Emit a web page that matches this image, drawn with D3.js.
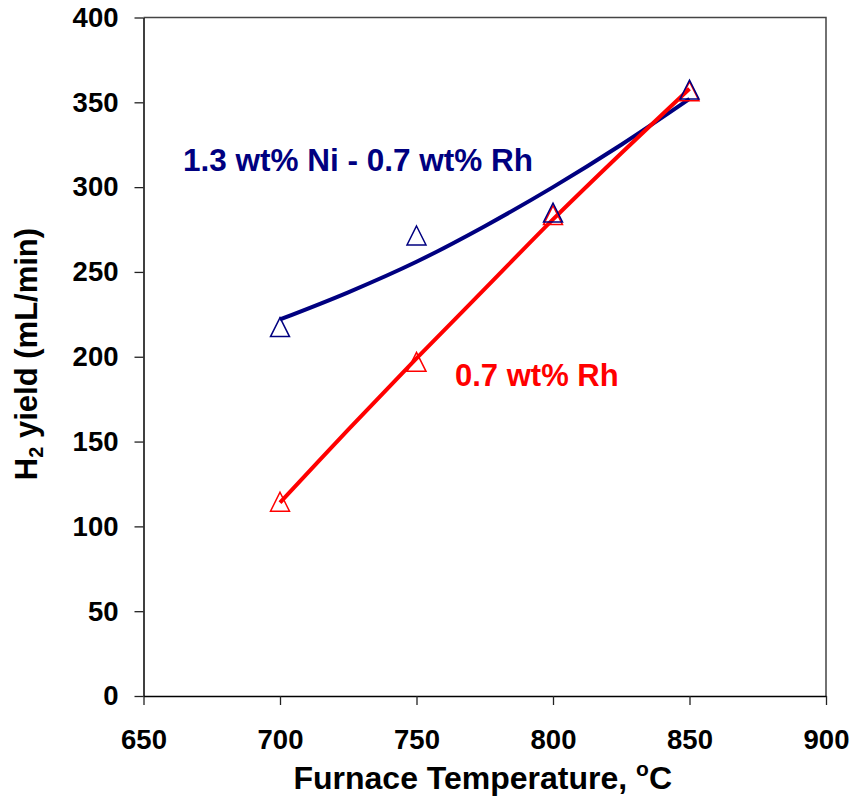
<!DOCTYPE html>
<html>
<head>
<meta charset="utf-8">
<script src="https://cdn.jsdelivr.net/npm/d3@7"></script>
<style>
  html, body { margin: 0; padding: 0; background: #fff; }
  svg { display: block; font-family: "Liberation Sans", Arial, sans-serif; font-weight: bold; }
</style>
</head>
<body>
<svg id="chart" width="851" height="799"></svg>
<script>
// ---- data ----
const temperatures = [700, 750, 800, 850];
const niRhYield = [217.5, 271.5, 285, 357.5];     // 1.3 wt% Ni - 0.7 wt% Rh (markers)
const rhYield   = [114.5, 197, 283.5, 356.5];     // 0.7 wt% Rh (markers)
// trendline values
const trendTemps = [700, 725, 750, 775, 800, 825, 850];
const niRhTrend  = [222, 238, 256, 277, 300, 325, 352];
const rhTrend    = [114, 157, 199, 240, 281, 320, 358];
const xTicks = [650, 700, 750, 800, 850, 900];
const yTicks = [0, 50, 100, 150, 200, 250, 300, 350, 400];
const labelNiRh = "1.3 wt% Ni - 0.7 wt% Rh";
const labelRh = "0.7 wt% Rh";

const W = 851, H = 799;
const margin = { left: 143.5, right: 25, top: 17.5, bottom: 103 };
const svg = d3.select("#chart");

const x = d3.scaleLinear().domain([650, 900]).range([margin.left, W - margin.right]);
const y = d3.scaleLinear().domain([0, 400]).range([H - margin.bottom, margin.top]);

// plot frame (top/right)
svg.append("path")
  .attr("d", `M${x(650)},${y(400)}H${x(900)}V${y(0)}`)
  .attr("fill", "none").attr("stroke", "#444").attr("stroke-width", 1.5);

// axes
const xAxis = d3.axisBottom(x).tickValues(xTicks).tickSize(9).tickSizeOuter(0).tickPadding(24);
const gx = svg.append("g").attr("transform", `translate(0,${y(0)})`).call(xAxis);
gx.select(".domain").attr("stroke", "#000").attr("stroke-width", 1.5);
gx.selectAll(".tick line").attr("stroke", "#222").attr("stroke-width", 1.3);
gx.selectAll(".tick text").attr("font-size", 27.5).attr("font-family", "Liberation Sans, Arial").attr("font-weight", "bold").attr("fill", "#000");

const yAxis = d3.axisLeft(y).tickValues(yTicks).tickSize(9).tickSizeOuter(0).tickPadding(16);
const gy = svg.append("g").attr("transform", `translate(${x(650)},0)`).call(yAxis);
gy.select(".domain").attr("stroke", "#000").attr("stroke-width", 1.5);
gy.selectAll(".tick line").attr("stroke", "#222").attr("stroke-width", 1.3);
gy.selectAll(".tick text").attr("font-size", 27.5).attr("font-family", "Liberation Sans, Arial").attr("font-weight", "bold").attr("fill", "#000");

// trendlines
const line = d3.line().x(d => x(d[0])).y(d => y(d[1])).curve(d3.curveCatmullRom);
svg.append("path")
  .datum(d3.zip(trendTemps, niRhTrend))
  .attr("d", line).attr("fill", "none").attr("stroke", "#000080").attr("stroke-width", 4);
svg.append("path")
  .datum(d3.zip(trendTemps, rhTrend))
  .attr("d", line).attr("fill", "none").attr("stroke", "#ff0000").attr("stroke-width", 4);

// markers (open triangles)
const tri = (cx, cy) => `M${cx},${cy - 9.5}L${cx + 9.5},${cy + 9.5}L${cx - 9.5},${cy + 9.5}Z`;
svg.append("g").selectAll("path")
  .data(d3.zip(temperatures, rhYield))
  .join("path")
  .attr("d", d => tri(x(d[0]), y(d[1])))
  .attr("fill", "none").attr("stroke", "#ff0000").attr("stroke-width", 1.5);
svg.append("g").selectAll("path")
  .data(d3.zip(temperatures, niRhYield))
  .join("path")
  .attr("d", d => tri(x(d[0]), y(d[1])))
  .attr("fill", "none").attr("stroke", "#000080").attr("stroke-width", 1.5);

// series labels
svg.append("text").attr("x", 183).attr("y", 171)
  .attr("font-size", 31.5).attr("fill", "#000080").text(labelNiRh);
svg.append("text").attr("x", 455).attr("y", 386)
  .attr("font-size", 31).attr("fill", "#ff0000").text(labelRh);

// axis titles
const xt = svg.append("text").attr("x", (x(650) + x(900)) / 2 - 2).attr("y", 789)
  .attr("text-anchor", "middle").attr("font-size", 32).attr("fill", "#000");
xt.append("tspan").text("Furnace Temperature, ");
xt.append("tspan").attr("font-size", 21).attr("dy", -13).text("o");
xt.append("tspan").attr("dy", 13).text("C");

const yt = svg.append("text").attr("transform", `translate(37,354) rotate(-90)`)
  .attr("text-anchor", "middle").attr("font-size", 31).attr("fill", "#000");
yt.append("tspan").text("H");
yt.append("tspan").attr("font-size", 20).attr("dy", 6).text("2");
yt.append("tspan").attr("dy", -6).text(" yield (mL/min)");
</script>
</body>
</html>
